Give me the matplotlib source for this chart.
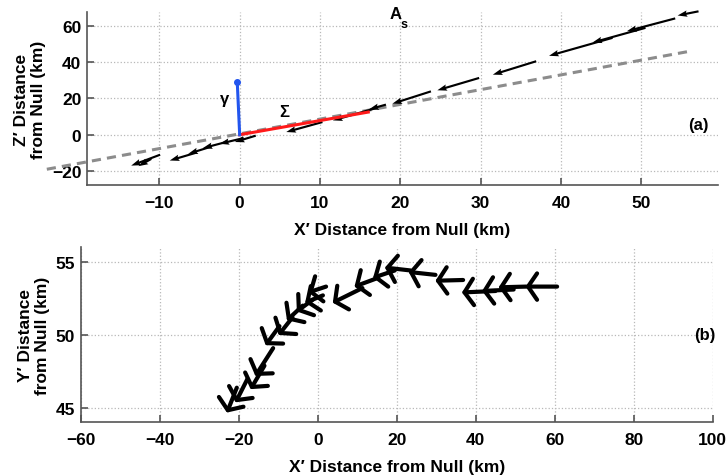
import numpy as np
import matplotlib.pyplot as plt

plt.rcParams["font.family"] = ["Liberation Sans", "DejaVu Sans"]
plt.rcParams["font.weight"] = "bold"
plt.rcParams["axes.labelweight"] = "bold"

# ── panel (a): X'-Z' projection ──────────────────────────────────────────────
# quiver arrows: head position and tail position
a_head_x = [54.5, 48.2, 43.9, 38.5, 31.5, 24.6, 19.0, 16.1, 11.6, 5.8,
            -0.6, -2.5, -4.6, -6.4, -8.7, -13.5, -12.6]
a_head_z = [65.7, 57.1, 50.8, 43.5, 33.1, 24.5, 17.1, 14.0, 7.9, 1.5,
            -4.0, -5.0, -7.4, -10.5, -14.2, -17.0, -17.3]
a_tail_x = [57.1, 54.2, 50.5, 46.4, 36.9, 29.8, 23.8, 18.2, 17.0, 10.3,
            2.0, 0.5, -1.5, -3.5, -5.5, -9.9, -11.0]
a_tail_z = [68.0, 64.1, 58.9, 53.4, 40.5, 31.3, 23.9, 16.6, 14.7, 7.0,
            -0.5, -1.8, -3.8, -6.5, -10.0, -11.0, -13.3]

fit_x = [-24.0, 56.0]      # grey dashed fit line
fit_z = [-19.0, 46.0]
sigma_x = [0.0, 16.0]      # red Σ
sigma_z = [0.0, 12.5]
gamma_x = [0.0, -0.3]      # blue γ
gamma_z = [0.0, 29.0]

# ── panel (b): X'-Y' projection ──────────────────────────────────────────────
b_head_x = [52.6, 45.8, 41.6, 36.5, 29.8, 23.0, 17.0, 14.0, 9.3, 3.8,
            -2.4, -3.2, -5.3, -7.8, -9.9, -13.2, -15.8, -17.0, -20.8, -23.0]
b_head_y = [53.3, 53.25, 53.0, 52.9, 53.7, 54.3, 54.6, 53.9, 53.3, 52.2,
            52.9, 52.2, 51.6, 51.0, 50.0, 49.3, 47.2, 46.3, 45.4, 44.7]
b_u = [8.0, 7.0, 8.0, 8.5, 7.0, 6.8, 6.5, 5.5, 6.0, 7.5,
       4.5, 4.5, 4.0, 4.0, 3.5, 3.5, 4.5, 3.5, 3.0, 2.5]
b_v = [0.0, 0.05, 0.1, 0.1, 0.05, -0.2, -0.2, 0.5, 0.6, 1.0,
       0.4, 0.5, 0.8, 1.0, 1.2, 1.3, 1.9, 1.6, 1.6, 1.7]

SPINE = "#555555"


def style(ax, xt, yt):
    for s in ("top", "right"):
        ax.spines[s].set_visible(False)
    for s in ("left", "bottom"):
        ax.spines[s].set_color(SPINE)
        ax.spines[s].set_linewidth(1.2)
    ax.set_xticks(xt)
    ax.set_yticks(yt)
    ax.tick_params(direction="in", length=5, width=1.2, color=SPINE,
                   labelsize=12.5)
    ax.tick_params(axis="x", pad=7)
    ax.tick_params(axis="y", pad=4)
    ax.grid(True, ls=":", color="#b8b8b8", lw=0.9)
    ax.set_axisbelow(True)


fig = plt.figure(figsize=(7.28, 4.77), dpi=100)
axA = fig.add_axes([0.1195, 0.610, 0.8665, 0.363])
axB = fig.add_axes([0.111, 0.113, 0.868, 0.367])

# (a)
axA.plot(fit_x, fit_z, color="#8c8c8c", lw=2.2, ls=(0, (3, 2)), clip_on=False, zorder=2)
hx, hz = np.array(a_head_x), np.array(a_head_z)
tx, tz = np.array(a_tail_x), np.array(a_tail_z)
axA.quiver(tx, tz, hx - tx, hz - tz, angles="xy", scale_units="xy", scale=1,
           color="black", width=0.0034, headwidth=3.0, headlength=4.5,
           headaxislength=4.0, zorder=3, clip_on=False)
axA.plot(sigma_x, sigma_z, color="#ff1a1a", lw=2.2, zorder=4)
axA.plot(gamma_x, gamma_z, color="#2255ee", lw=2.2, zorder=4)
axA.plot(gamma_x[-1], gamma_z[-1], "o", color="#2255ee", ms=4, zorder=4)
axA.text(-1.9, 20, "γ", fontsize=12, ha="center", va="center")
axA.text(5.6, 12.7, "Σ", fontsize=12, ha="center", va="center")
axA.text(19.4, 66.9, "A", fontsize=12, ha="center", va="center", clip_on=False)
axA.text(20.5, 61.0, "s", fontsize=9, ha="center", va="center")
axA.text(57.1, 5.5, "(a)", fontsize=12, ha="center", va="center")
axA.set_xlim(-19, 59.5)
axA.set_ylim(-27.7, 67.7)
style(axA, np.arange(-10, 51, 10), np.arange(-20, 61, 20))
axA.set_xlabel("X′ Distance from Null (km)", fontsize=12.5, labelpad=9)
axA.set_ylabel("Z′ Distance\nfrom Null (km)", fontsize=12.5, labelpad=4)

# (b)
for x, y, u, v in zip(b_head_x, b_head_y, b_u, b_v):
    axB.annotate("", xy=(x, y), xytext=(x + u, y + v),
                 arrowprops=dict(arrowstyle="->,head_length=0.65,head_width=0.95",
                                 lw=3, color="black", shrinkA=0, shrinkB=0))
axB.text(98, 50, "(b)", fontsize=12, ha="center", va="center", clip_on=False)
axB.set_xlim(-60, 100)
axB.set_ylim(44.05, 56)
style(axB, np.arange(-60, 101, 20), [45, 50, 55])
axB.set_xlabel("X′ Distance from Null (km)", fontsize=12.5, labelpad=9)
axB.set_ylabel("Y′ Distance\nfrom Null (km)", fontsize=12.5, labelpad=4)

fig.savefig("out.png", dpi=100)
